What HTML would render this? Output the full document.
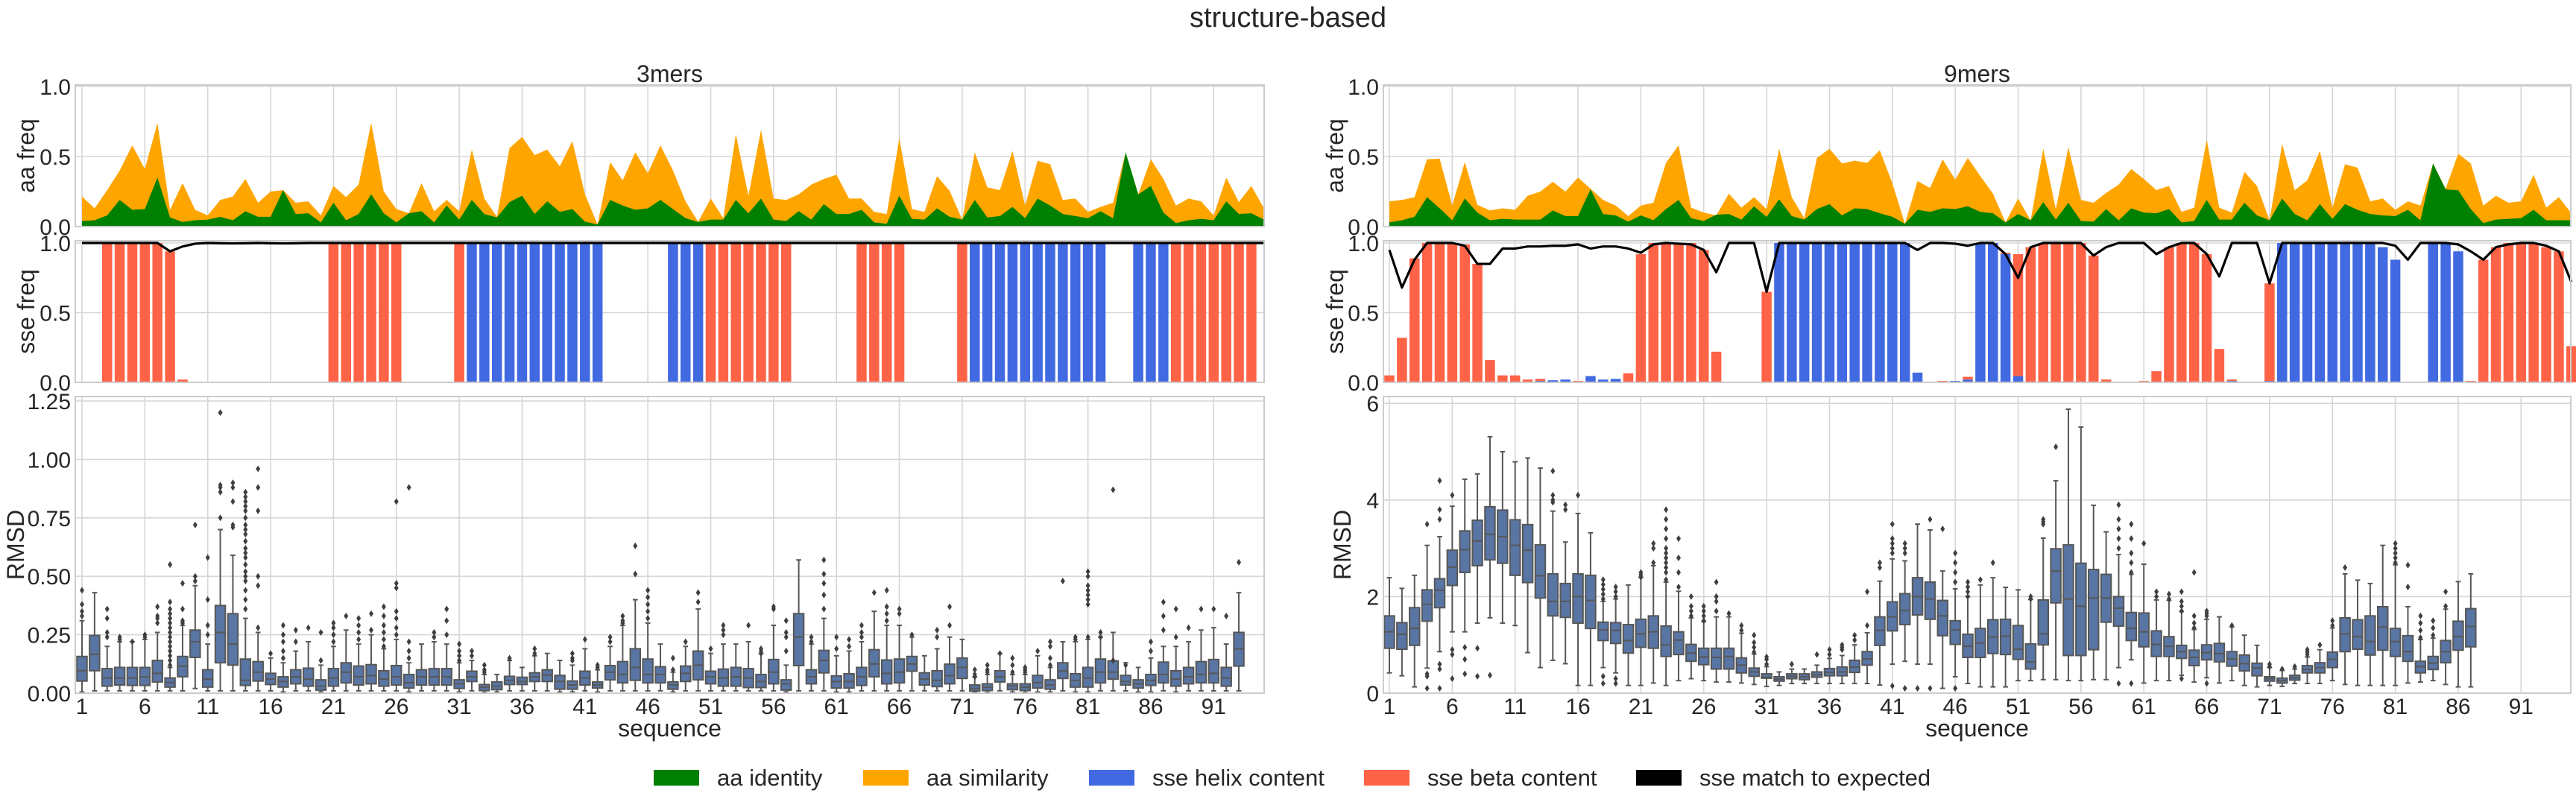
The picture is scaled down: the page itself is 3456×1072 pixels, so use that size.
<!DOCTYPE html>
<html><head><meta charset="utf-8"><title>structure-based</title>
<style>
html,body{margin:0;padding:0;background:#fff;}
svg{display:block;font-family:"Liberation Sans",Arial,sans-serif;}
</style></head>
<body>
<svg id="fig" width="3456" height="1072" viewBox="0 0 3456 1072" xmlns="http://www.w3.org/2000/svg">
<rect x="0" y="0" width="3456" height="1072" fill="#fff"/>
<text x="1728" y="36" font-size="38" text-anchor="middle" fill="#262626">structure-based</text>
<g id="legend"></g>
</svg>
<script>
// ---------- data: 3mers ----------
const simL=[.215,.13,.26,.40,.58,.41,.74,.12,.31,.12,.08,.19,.215,.34,.17,.25,.26,.17,.18,.08,.29,.21,.30,.74,.25,.125,.095,.31,.11,.19,.11,.55,.20,.07,.56,.64,.51,.55,.43,.61,.23,.015,.46,.33,.53,.38,.58,.40,.18,.033,.20,.06,.66,.22,.69,.20,.19,.23,.30,.34,.37,.20,.20,.105,.09,.63,.125,.105,.36,.255,.05,.53,.28,.26,.54,.15,.47,.445,.19,.20,.105,.14,.17,.53,.23,.48,.34,.15,.20,.18,.08,.35,.175,.29,.13];
const idL=[.04,.045,.08,.19,.12,.125,.35,.065,.033,.045,.05,.07,.045,.11,.07,.07,.26,.09,.095,.03,.17,.045,.09,.23,.095,.03,.095,.11,.03,.15,.05,.19,.09,.065,.175,.22,.09,.18,.105,.125,.035,.015,.19,.15,.12,.13,.19,.125,.06,.033,.05,.05,.19,.095,.20,.05,.04,.11,.05,.16,.09,.09,.12,.03,.02,.22,.055,.05,.13,.07,.05,.19,.065,.075,.14,.06,.20,.15,.09,.075,.06,.11,.06,.53,.23,.29,.10,.025,.045,.055,.045,.18,.09,.095,.05];
const helixL=[0,0,0,0,0,0,0,0,0,0,0,0,.005,0,0,.005,0,.005,0,0,0,0,0,0,0,0,0,0,0,0,0,1,1,1,1,1,1,1,1,1,1,1,0,0,0,0,0,1,1,1,0,0,0,0,0,0,0,0,0,0,0,0,0,0,0,0,0,0,0,0,0,1,1,1,1,1,1,1,1,1,1,1,0,0,1,1,1,0,0,0,0,0,0,0,0];
const betaL=[0,0,1,1,1,1,1,.94,.02,0,0,.005,0,0,0,0,.005,0,0,0,1,1,1,1,1,1,0,0,0,0,1,0,0,0,0,0,0,0,0,0,0,0,0,0,0,0,0,0,0,0,1,1,1,1,1,1,1,0,0,0,0,0,1,1,1,1,0,0,0,0,1,0,0,0,0,0,0,0,0,0,0,0,0,0,0,0,0,1,1,1,1,1,1,1,0];
const matchL=[1,1,1,1,1,1,1,.94,.975,.995,1,.998,.997,.998,1,.998,.997,.998,1,1,1,1,1,1,1,1,1,1,1,1,1,1,1,1,1,1,1,1,1,1,1,1,1,1,1,1,1,1,1,1,1,1,1,1,1,1,1,1,1,1,1,1,1,1,1,1,1,1,1,1,1,1,1,1,1,1,1,1,1,1,1,1,1,1,1,1,1,1,1,1,1,1,1,1,1];
const q1L=[.052,.096,.03,.035,.033,.033,.048,.026,.07,.153,.026,.13,.12,.033,.052,.037,.026,.04,.03,.013,.03,.044,.035,.04,.03,.035,.022,.035,.035,.035,.02,.05,.011,.015,.037,.037,.05,.05,.017,.017,.035,.022,.057,.044,.055,.044,.044,.017,.05,.057,.04,.03,.03,.024,.024,.04,.013,.118,.04,.087,.022,.022,.033,.07,.04,.044,.094,.035,.028,.04,.063,.009,.011,.048,.015,.011,.022,.017,.063,.026,.026,.044,.06,.035,.022,.033,.044,.03,.04,.044,.044,.03,.116];
const medL=[.096,.166,.065,.065,.065,.07,.085,.045,.115,.22,.06,.26,.21,.055,.09,.06,.05,.07,.06,.03,.065,.09,.07,.075,.06,.07,.045,.07,.07,.07,.04,.07,.025,.03,.055,.05,.07,.077,.05,.035,.065,.035,.09,.08,.11,.08,.08,.035,.085,.12,.07,.065,.07,.065,.05,.09,.04,.24,.07,.14,.05,.05,.07,.125,.085,.09,.125,.06,.055,.075,.11,.02,.025,.07,.03,.025,.045,.035,.095,.055,.065,.09,.09,.05,.04,.055,.08,.06,.07,.08,.085,.065,.19];
const q3L=[.157,.247,.105,.11,.11,.11,.14,.065,.157,.27,.10,.375,.34,.146,.135,.085,.07,.10,.107,.057,.105,.13,.116,.122,.096,.118,.08,.10,.105,.105,.057,.094,.037,.048,.072,.068,.087,.10,.076,.052,.094,.048,.118,.135,.19,.146,.113,.048,.116,.18,.094,.103,.11,.105,.08,.144,.057,.34,.10,.183,.074,.083,.11,.186,.142,.146,.157,.087,.096,.124,.15,.035,.04,.096,.04,.04,.076,.057,.13,.083,.11,.146,.138,.076,.057,.08,.133,.096,.11,.135,.144,.11,.26];
const loL=[.005,.01,.01,.01,.01,.01,.01,.01,.01,.02,.01,.01,.01,.01,.01,.01,.005,.01,.01,.005,.01,.01,.01,.01,.01,.01,.005,.01,.01,.01,.005,.01,.003,.005,.01,.01,.01,.01,.005,.005,.01,.005,.01,.01,.01,.01,.01,.005,.01,.01,.01,.01,.01,.01,.01,.01,.005,.01,.01,.01,.005,.005,.01,.01,.01,.01,.01,.01,.01,.01,.01,.003,.003,.01,.005,.003,.005,.005,.01,.005,.005,.01,.01,.01,.005,.005,.01,.005,.01,.01,.01,.01,.01];
const hiL=[.31,.43,.20,.22,.22,.23,.26,.11,.29,.46,.21,.70,.59,.32,.26,.15,.13,.18,.22,.12,.20,.27,.21,.25,.19,.23,.13,.21,.22,.21,.13,.14,.08,.08,.14,.11,.16,.17,.14,.12,.19,.10,.20,.29,.40,.30,.21,.09,.20,.36,.17,.21,.21,.22,.17,.29,.12,.57,.21,.32,.16,.18,.22,.35,.29,.29,.24,.16,.19,.24,.23,.07,.08,.17,.08,.08,.16,.11,.22,.22,.23,.24,.26,.13,.11,.15,.20,.20,.22,.27,.28,.21,.43];
const outIdxL=[1,1,1,1,3,3,3,3,4,4,5,6,6,7,7,7,7,8,8,8,8,8,8,8,8,8,8,8,8,8,8,8,9,9,9,9,10,10,10,11,11,11,11,12,12,12,12,12,13,13,13,13,13,14,14,14,14,14,14,14,14,14,14,14,14,14,14,14,14,14,14,14,14,15,15,15,15,15,15,16,17,17,17,17,17,18,18,19,20,20,21,21,21,21,22,23,23,23,23,24,24,25,25,25,25,25,25,26,26,26,26,26,26,26,27,27,27,27,29,29,30,30,30,31,31,31,31,32,32,33,33,33,35,37,37,40,40,40,41,42,42,43,43,44,44,44,45,45,46,46,46,46,46,48,48,49,50,50,51,52,52,52,54,55,55,55,56,56,57,57,57,57,59,59,60,60,60,60,60,61,61,62,62,63,63,63,64,65,65,65,65,66,66,67,69,69,70,70,72,72,72,73,73,73,74,75,75,75,76,76,76,77,78,78,78,78,79,80,80,81,81,81,81,81,81,81,81,82,82,83,83,84,86,86,87,87,87,88,88,89,90,91,92,93];
const outValL=[.33,.35,.38,.44,.24,.26,.32,.36,.23,.24,.22,.24,.25,.3,.32,.33,.37,.12,.14,.16,.18,.2,.22,.24,.26,.28,.3,.32,.34,.36,.39,.55,.3,.31,.36,.47,.48,.5,.72,.25,.29,.40,.58,.75,.86,.88,.89,1.2,.71,.72,.82,.88,.9,.36,.4,.44,.48,.5,.52,.55,.58,.6,.62,.65,.68,.7,.72,.75,.78,.8,.82,.84,.86,.28,.46,.5,.78,.88,.96,.17,.15,.18,.22,.25,.29,.22,.27,.28,.14,.26,.22,.25,.28,.3,.33,.23,.26,.29,.32,.27,.34,.2,.23,.26,.29,.33,.37,.25,.28,.32,.35,.45,.47,.82,.15,.18,.22,.88,.24,.26,.25,.31,.36,.14,.16,.18,.21,.16,.18,.09,.1,.12,.15,.17,.19,.14,.15,.17,.23,.11,.12,.22,.24,.3,.31,.33,.51,.63,.32,.35,.38,.41,.44,.1,.15,.22,.39,.43,.19,.25,.27,.29,.29,.17,.18,.19,.36,.37,.18,.24,.26,.31,.22,.24,.36,.42,.47,.51,.57,.19,.24,.2,.23,.24,.26,.29,.43,.31,.34,.37,.44,.34,.36,.25,.24,.27,.29,.37,.07,.08,.1,.09,.1,.12,.17,.09,.12,.15,.09,.1,.11,.18,.12,.15,.2,.22,.48,.23,.24,.38,.4,.42,.44,.46,.5,.52,.24,.24,.26,.87,.14,.12,.18,.22,.39,.27,.33,.36,.24,.28,.36,.36,.33,.56];
// ---------- data: 9mers ----------
const simR=[.18,.19,.21,.48,.485,.15,.46,.155,.115,.13,.12,.22,.25,.32,.25,.35,.27,.19,.15,.075,.15,.17,.455,.58,.135,.10,.08,.235,.135,.21,.125,.555,.21,.06,.49,.555,.45,.47,.455,.545,.31,.02,.325,.275,.48,.335,.49,.36,.235,.03,.20,.045,.555,.125,.565,.19,.17,.24,.30,.41,.34,.26,.29,.105,.135,.62,.135,.10,.39,.29,.045,.59,.26,.33,.54,.135,.445,.42,.18,.20,.12,.18,.15,.45,.27,.52,.45,.15,.22,.17,.18,.37,.135,.21,.095];
const idR=[.03,.045,.07,.21,.13,.045,.20,.10,.045,.055,.05,.05,.05,.115,.075,.075,.265,.09,.08,.035,.08,.045,.125,.19,.06,.04,.085,.09,.05,.145,.07,.195,.075,.05,.125,.16,.08,.13,.125,.095,.07,.02,.12,.105,.13,.125,.145,.105,.095,.03,.09,.045,.175,.05,.17,.04,.035,.125,.045,.13,.10,.095,.125,.03,.04,.19,.05,.05,.17,.08,.045,.20,.09,.045,.16,.055,.16,.12,.09,.08,.075,.12,.045,.45,.265,.26,.125,.025,.05,.055,.06,.12,.045,.045,.045];
const helixR=[0,0,0,0,0,0,0,0,0,0,0,0,.01,.015,.02,0,.045,.02,.025,0,0,0,0,0,0,0,0,0,0,0,0,1,1,1,1,1,1,1,1,1,1,1,.07,0,0,.01,.02,1,1,.92,.045,0,0,0,0,0,0,0,0,0,0,0,0,0,0,0,0,.01,0,0,.01,1,1,1,1,1,1,1,1,.97,.88,0,0,1,1,.94,0,0,0,0,0,0,0,0,0];
const betaR=[.05,.32,.89,1,1,1,.99,.85,.16,.05,.05,.02,.015,0,0,.01,0,0,0,.065,.92,1,1,1,1,.95,.22,0,0,0,.65,0,0,0,0,0,0,0,0,0,0,0,0,0,.01,0,.02,0,0,.01,.875,.97,1,1,1,1,.91,.02,0,0,.01,.08,.97,1,1,.92,.24,.01,0,0,.70,0,0,0,0,0,0,0,0,0,0,0,0,0,0,0,.01,.88,.97,1,1,1,.97,.94,.26];
const matchR=[.95,.68,.88,1,1,1,.98,.85,.85,.96,.96,.975,.975,.98,.98,.99,.96,.975,.975,.96,.93,.99,1,.995,.99,.95,.79,1,1,1,.65,1,1,1,1,1,1,1,1,1,1,1,.95,1,1,.995,.98,1,1,.92,.75,.97,1,1,1,1,.91,.97,1,1,1,.92,.97,1,1,.92,.76,1,1,1,.71,1,1,1,1,1,1,1,1,1,.98,.88,1,1,1,.99,.94,.88,.97,.99,1,1,.98,.94,.72];
const q1R=[.93,.91,.99,1.49,1.77,2.23,2.5,2.64,2.76,2.69,2.44,2.29,1.97,1.60,1.57,1.45,1.34,1.09,1.03,.83,.95,.93,.76,.80,.66,.59,.50,.50,.42,.35,.31,.25,.30,.28,.33,.36,.36,.43,.58,.99,1.29,1.42,1.62,1.53,1.19,1.01,.74,.74,.82,.80,.70,.50,1.0,1.87,.78,.78,.90,1.47,1.39,1.09,.96,.76,.76,.72,.57,.69,.65,.56,.46,.36,.25,.21,.27,.42,.42,.53,.86,.91,.79,.89,.76,.66,.42,.49,.63,.89,.96];
const medR=[1.27,1.22,1.34,1.84,2.13,2.61,2.97,3.15,3.29,3.24,3.06,2.96,2.43,1.90,1.90,2.0,1.92,1.31,1.30,1.09,1.23,1.27,1.0,1.10,.83,.75,.74,.76,.58,.44,.33,.29,.35,.34,.38,.43,.44,.54,.71,1.30,1.58,1.71,2.0,1.95,1.60,1.31,.97,1.04,1.16,1.18,.91,.65,1.23,2.53,1.95,1.80,1.97,1.97,1.76,1.34,1.27,1.01,.97,.86,.74,.84,.82,.71,.61,.52,.30,.26,.32,.49,.53,.70,1.23,1.17,1.07,1.37,1.07,.86,.55,.62,.86,1.17,1.38];
const q3R=[1.60,1.46,1.77,2.14,2.37,2.96,3.36,3.58,3.86,3.79,3.59,3.49,3.07,2.47,2.27,2.47,2.44,1.47,1.46,1.42,1.53,1.60,1.39,1.27,1.01,.93,.93,.93,.73,.52,.40,.34,.40,.40,.44,.51,.54,.68,.86,1.58,1.89,2.06,2.39,2.30,1.92,1.50,1.22,1.34,1.52,1.53,1.40,1.02,1.93,2.99,3.07,2.69,2.56,2.46,2.0,1.67,1.66,1.29,1.17,.99,.89,1.0,1.03,.86,.79,.62,.34,.31,.37,.57,.63,.85,1.56,1.52,1.60,1.79,1.34,1.19,.66,.76,1.09,1.49,1.75];
const loR=[.42,.36,.13,.52,.86,1.27,1.27,1.45,1.56,1.45,1.40,.84,.53,.68,.61,.16,.16,.53,.42,.16,.16,.21,.16,.26,.3,.26,.23,.23,.21,.18,.14,.16,.2,.2,.2,.2,.2,.2,.2,.17,.6,.66,.6,.6,.1,.34,.2,.13,.13,.13,.26,.26,.28,.28,.26,.26,.28,.28,.53,.69,.21,.26,.26,.37,.23,.32,.21,.26,.16,.13,.16,.14,.2,.2,.2,.26,.18,.16,.16,.16,.16,.21,.23,.26,.18,.13,.13];
const hiR=[2.39,2.17,2.44,3.06,3.24,3.87,4.43,4.54,5.31,5.0,4.79,4.87,4.66,3.77,3.13,3.72,3.32,1.90,1.95,2.24,2.4,2.64,2.3,2.11,1.56,1.48,1.58,1.58,1.24,.81,.55,.44,.5,.5,.58,.72,.78,1.0,1.25,2.32,2.78,2.74,3.5,3.38,2.53,2.16,2.0,2.24,2.39,2.19,2.14,1.94,3.21,4.40,5.88,5.51,3.89,3.34,2.87,2.46,2.67,1.93,1.92,1.69,1.32,1.53,1.58,1.37,1.20,.99,.53,.47,.5,.75,.9,1.35,2.47,2.34,2.27,3.06,2.66,1.79,1.11,1.14,1.74,2.31,2.47];
const outIdxR=[4,4,4,4,5,5,5,5,5,5,6,6,6,6,7,7,7,8,8,9,14,14,14,14,15,15,16,18,18,18,18,18,18,18,19,19,19,19,19,21,21,21,22,22,22,23,23,23,23,23,23,23,23,23,23,23,24,24,24,24,25,25,25,25,26,26,26,26,27,27,27,27,28,29,29,30,30,30,30,31,31,31,33,35,36,36,37,37,37,38,38,39,39,40,40,41,41,41,41,41,41,42,42,42,42,43,44,44,45,46,46,46,46,46,47,47,47,47,48,49,52,52,53,53,53,54,59,59,59,59,59,59,60,60,60,60,60,60,61,62,62,63,63,64,64,64,64,64,65,65,65,65,66,66,66,66,68,71,71,72,73,74,74,74,75,76,76,77,81,81,81,81,81,82,82,83,83,83,83,84,84,84,85,85];
const outValR=[3.5,.4,.35,.1,4.4,3.8,3.6,.5,.6,.1,4.1,.3,.8,.9,.4,.7,.95,.35,.93,.37,3.95,4.0,4.1,4.6,3.8,3.9,4.1,1.95,2.05,2.15,2.25,2.35,.35,.2,2.0,2.1,2.2,.3,.2,2.4,2.45,2.5,2.7,3.0,3.1,2.35,2.5,2.6,2.7,2.8,2.9,3.0,3.2,3.4,3.6,3.8,2.2,2.5,2.8,3.2,1.6,1.7,1.8,2.0,1.5,1.6,1.7,1.8,1.7,1.9,2.0,2.3,1.65,1.3,1.4,.85,.95,1.05,1.2,.6,.7,.75,.6,.8,.8,.9,.9,.95,1.0,1.1,1.2,1.4,2.1,2.6,2.7,2.9,3.0,3.1,3.2,3.5,.15,2.9,3.0,3.1,.1,.1,3.6,.1,3.4,2.3,2.5,2.7,2.9,.1,2.0,2.1,2.2,2.3,2.35,2.7,1.95,2.0,3.5,3.55,3.6,5.1,3.0,3.2,3.4,3.6,3.9,.2,2.5,2.7,2.9,3.2,3.5,.2,3.1,2.0,2.1,1.95,2.05,1.7,1.8,1.9,2.1,.3,1.35,1.45,1.6,2.5,1.6,1.65,1.7,.2,1.4,.55,.6,.5,.55,.8,.85,.9,1.0,1.4,1.5,2.6,2.7,2.8,2.9,3.0,3.1,2.2,2.65,1.15,1.3,1.45,1.6,1.2,1.35,1.5,1.8,2.1];
const xTicks=[1,6,11,16,21,26,31,36,41,46,51,56,61,66,71,76,81,86,91];
const freqTicks=[0,0.5,1.0];
const freqTickLabels=["0.0","0.5","1.0"];
const rmsdTicksL=[0,0.25,0.5,0.75,1.0,1.25];
const rmsdTickLabelsL=["0.00","0.25","0.50","0.75","1.00","1.25"];
const rmsdTicksR=[0,2,4,6];
const rmsdTickLabelsR=["0","2","4","6"];

// ---------- drawing ----------
const NS="http://www.w3.org/2000/svg";
const svg=document.getElementById('fig');
function mk(tag,attrs,parent){const e=document.createElementNS(NS,tag);for(const k in attrs)e.setAttribute(k,attrs[k]);(parent||svg).appendChild(e);return e;}
const C={green:'#008000',orange:'#ffa500',helix:'#4169e1',beta:'#ff6347',box:'#5875a4',edge:'#575757',grid:'#d6d6d6',spine:'#cccccc',text:'#262626'};
const STEP=16.87;
const aaTop=114,aaBot=304,sseTop=323,sseBot=513,bxTop=532,bxBot=930;

function panel(cfg){
  const g=mk('g',{});
  
  
  const xs=i=>cfg.x0+(i-1)*STEP; // i is 1-based residue
  const yAA=v=>aaBot-v*188;
  const ySSE=v=>sseBot-v*187;
  const yBX=v=>bxBot-v*cfg.bxScale;
  const L=cfg.left,R=cfg.right;
  // title
  const t=mk('text',{x:(L+R)/2,y:110,'font-size':32,'text-anchor':'middle',fill:C.text},g);
  t.textContent=cfg.title;
  
  
  // grids
  const grid=mk('g',{stroke:C.grid,'stroke-width':1.6},g);
  
  
  for(const [top,bot] of [[aaTop,aaBot],[sseTop,sseBot],[bxTop,bxBot]]){
    xTicks.forEach(tk=>mk('line',{x1:xs(tk),x2:xs(tk),y1:top,y2:bot},grid));
  }
  freqTicks.forEach(v=>{mk('line',{x1:L,x2:R,y1:yAA(v),y2:yAA(v)},grid);mk('line',{x1:L,x2:R,y1:ySSE(v),y2:ySSE(v)},grid);});
  cfg.rTicks.forEach(v=>mk('line',{x1:L,x2:R,y1:yBX(v),y2:yBX(v)},grid));
  // aa areas
  function area(vals,color,nm){
    let d='M'+xs(1)+','+aaBot;
    vals.forEach((v,i)=>{d+=' L'+xs(i+1).toFixed(2)+','+yAA(v).toFixed(2);});
    d+=' L'+xs(vals.length).toFixed(2)+','+aaBot+' Z';
    const p=mk('path',{d:d,fill:color},g);
    
    
  }
  area(cfg.sim,C.orange,cfg.name+'-aa-similarity-area');
  area(cfg.id,C.green,cfg.name+'-aa-identity-area');
  // sse bars (helix bottom, beta stacked)
  const bw=STEP*0.8;
  cfg.helix.forEach((v,i)=>{
    if(v>0){const r=mk('rect',{x:xs(i+1)-bw/2,y:ySSE(v),width:bw,height:Math.max(0.6,ySSE(0)-ySSE(v)),fill:C.helix},g);
      
      }
  });
  cfg.beta.forEach((v,i)=>{
    const base=cfg.helix[i];
    if(v>0){const r=mk('rect',{x:xs(i+1)-bw/2,y:ySSE(base+v),width:bw,height:Math.max(0.6,ySSE(base)-ySSE(base+v)),fill:C.beta},g);
      
      }
  });
  let pts=cfg.match.map((v,i)=>xs(i+1).toFixed(2)+','+ySSE(v).toFixed(2)).join(' ');
  const ml=mk('polyline',{points:pts,fill:'none',stroke:'#000','stroke-width':3.2,'stroke-linejoin':'round'},g);
  
  
  // boxplots
  const cap=bw/2;
  cfg.q1.forEach((q1,i)=>{
    const x=xs(i+1);
    const bg=mk('g',{stroke:C.edge,'stroke-width':2,fill:'none'},g);
    
    
    mk('line',{x1:x,x2:x,y1:yBX(cfg.q3[i]),y2:yBX(cfg.hi[i])},bg);
    mk('line',{x1:x,x2:x,y1:yBX(q1),y2:yBX(cfg.lo[i])},bg);
    mk('line',{x1:x-cap/2,x2:x+cap/2,y1:yBX(cfg.hi[i]),y2:yBX(cfg.hi[i])},bg);
    mk('line',{x1:x-cap/2,x2:x+cap/2,y1:yBX(cfg.lo[i]),y2:yBX(cfg.lo[i])},bg);
    mk('rect',{x:x-bw/2,y:yBX(cfg.q3[i]),width:bw,height:Math.max(1,yBX(q1)-yBX(cfg.q3[i])),fill:C.box},bg);
    mk('line',{x1:x-bw/2,x2:x+bw/2,y1:yBX(cfg.med[i]),y2:yBX(cfg.med[i])},bg);
  });
  const og=mk('g',{fill:'#3f3f3f'},g);
  
  
  cfg.outIdx.forEach((ix,k)=>{
    const x=xs(ix),y=yBX(cfg.outVal[k]);
    const d=mk('path',{d:`M${x},${y-4.5} L${x+3},${y} L${x},${y+4.5} L${x-3},${y} Z`},og);
    
    
  });
  // spines
  const sp=mk('g',{fill:'none',stroke:C.spine,'stroke-width':2},g);
  
  
  [[aaTop,aaBot],[sseTop,sseBot],[bxTop,bxBot]].forEach(([a,b])=>mk('rect',{x:L,y:a,width:R-L,height:b-a},sp));
  // tick labels
  const tg=mk('g',{'font-size':30,fill:C.text},g);
  
  
  freqTicks.forEach((v,k)=>{
    let e=mk('text',{x:L-6,y:yAA(v)+11,'text-anchor':'end'},tg);e.textContent=freqTickLabels[k];
    e=mk('text',{x:L-6,y:ySSE(v)+11,'text-anchor':'end'},tg);e.textContent=freqTickLabels[k];
  });
  cfg.rTicks.forEach((v,k)=>{const e=mk('text',{x:L-6,y:yBX(v)+11,'text-anchor':'end'},tg);e.textContent=cfg.rLabels[k];});
  xTicks.forEach(tk=>{const e=mk('text',{x:xs(tk),y:958,'text-anchor':'middle'},tg);e.textContent=String(tk);});
  // axis labels
  function ylab(txt,x,y,nm){const e=mk('text',{x:x,y:y,'font-size':32,'text-anchor':'middle',fill:C.text,transform:`rotate(-90 ${x} ${y})`},g);e.textContent=txt;
    
    }
  ylab('aa freq',cfg.labX,209,cfg.name+'-aa-freq-label');
  ylab('sse freq',cfg.labX,418,cfg.name+'-sse-freq-label');
  ylab('RMSD',cfg.rLabX,731,cfg.name+'-rmsd-label');
  const xl=mk('text',{x:(L+R)/2,y:988,'font-size':32,'text-anchor':'middle',fill:C.text},g);
  xl.textContent='sequence';
  
  
}
panel({name:'3mers',title:'3mers',left:101,right:1696,x0:110,bxScale:313.6,sim:simL,id:idL,helix:helixL,beta:betaL,match:matchL,q1:q1L,med:medL,q3:q3L,lo:loL,hi:hiL,outIdx:outIdxL,outVal:outValL,rTicks:rmsdTicksL,rLabels:rmsdTickLabelsL,labX:46,rLabX:32});
panel({name:'9mers',title:'9mers',left:1856,right:3449,x0:1864,bxScale:64.8,sim:simR,id:idR,helix:helixR,beta:betaR,match:matchR,q1:q1R,med:medR,q3:q3R,lo:loR,hi:hiR,outIdx:outIdxR,outVal:outValR,rTicks:rmsdTicksR,rLabels:rmsdTickLabelsR,labX:1802,rLabX:1812});

// legend
const leg=document.getElementById('legend');
const legItems=[['aa identity',C.green,877],['aa similarity',C.orange,1158],['sse helix content',C.helix,1461],['sse beta content',C.beta,1830],['sse match to expected','#000',2195]];
legItems.forEach(([lab,col,x])=>{
  const g=mk('g',{},leg);
  
  
  mk('rect',{x:x,y:1033,width:61,height:21,fill:col},g);
  const t=mk('text',{x:x+85,y:1054,'font-size':31,fill:C.text},g);
  t.textContent=lab;
});
</script>
</body></html>
